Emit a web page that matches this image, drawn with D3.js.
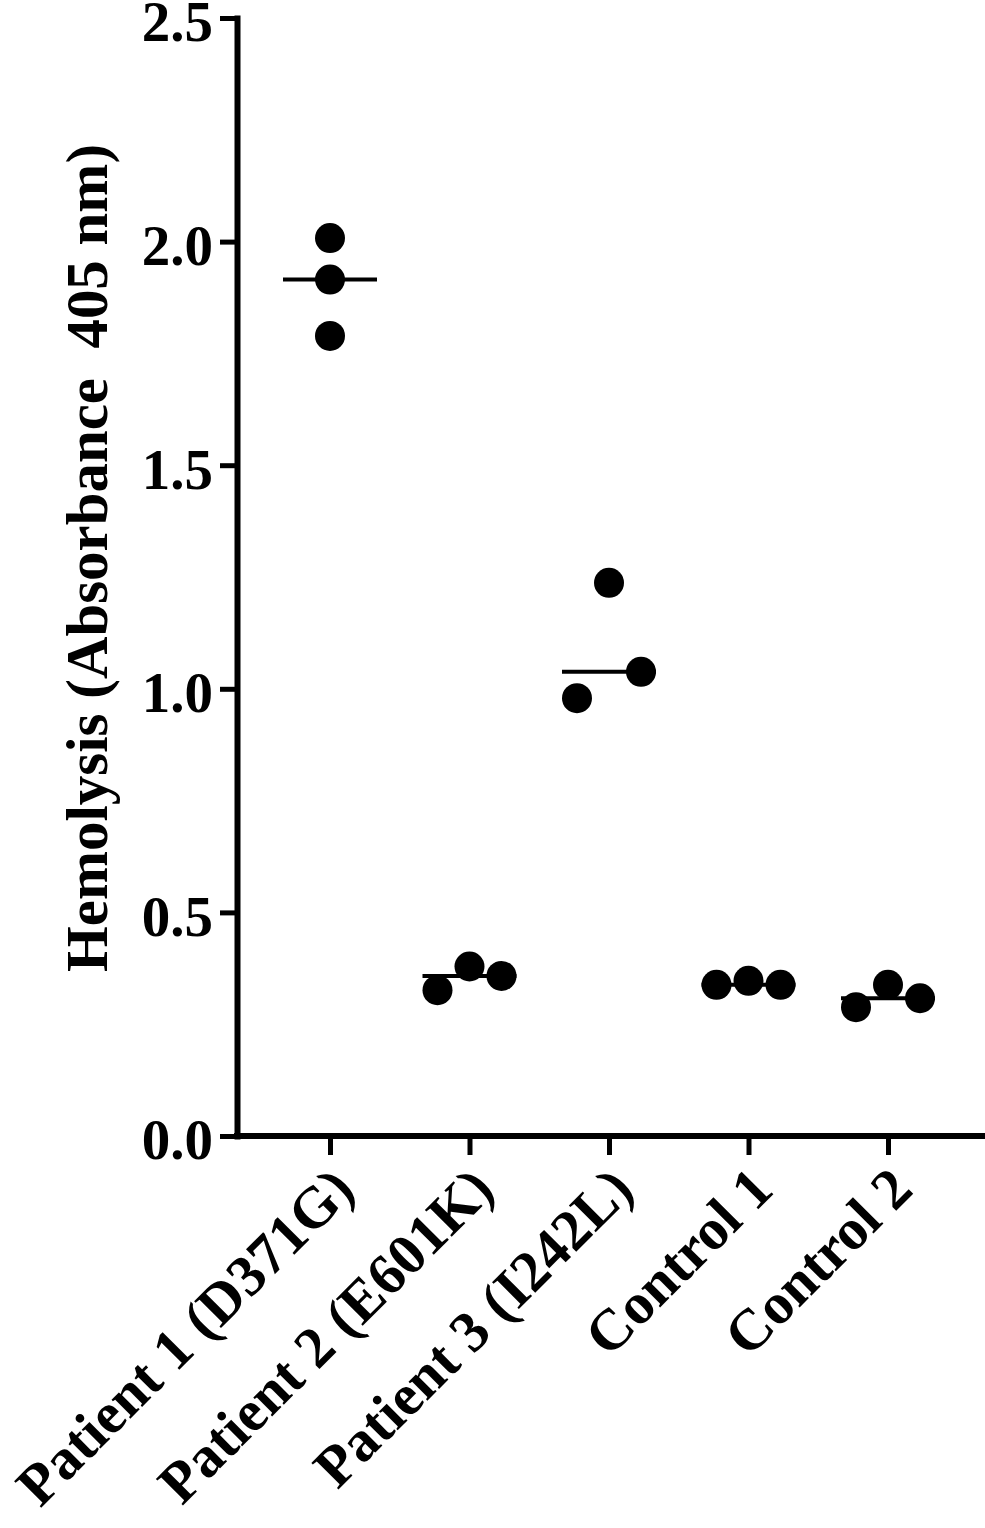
<!DOCTYPE html>
<html>
<head>
<meta charset="utf-8">
<script src="https://cdn.jsdelivr.net/npm/d3@7"></script>
<style>
  html, body { margin: 0; padding: 0; background: #fff; }
  svg { display: block; }
  text { font-family: "Liberation Serif", "Times New Roman", serif; font-weight: bold; fill: #000; }
</style>
</head>
<body>
<svg id="chart" width="985" height="1528"></svg>
<script>
// ---- data ----
const categories = ["Patient 1 (D371G)", "Patient 2 (E601K)", "Patient 3 (I242L)", "Control 1", "Control 2"];
const patient1 = [2.008, 1.915, 1.789];
const patient2 = [0.326, 0.379, 0.358];
const patient3 = [0.979, 1.237, 1.038];
const control1 = [0.338, 0.347, 0.338];
const control2 = [0.288, 0.338, 0.308];
const yTickValues = [0.0, 0.5, 1.0, 1.5, 2.0, 2.5];
const yTitle = "Hemolysis (Absorbance  405 nm)";

const groups = [patient1, patient2, patient3, control1, control2];

// ---- layout ----
const svg = d3.select("#chart");
const axisX = 237;      // y axis position
const yTop = 18, yBottom = 1136;
const x = d3.scalePoint().domain(categories).range([330, 888]);
const y = d3.scaleLinear().domain([0, 2.5]).range([yBottom, yTop]);
const R = 15;
const spread = 32;

// Y axis
const yAxis = d3.axisLeft(y).tickValues(yTickValues).tickFormat(d3.format(".1f"))
  .tickSize(17).tickSizeOuter(0).tickPadding(7);
const gy = svg.append("g").attr("transform", `translate(${axisX},0)`).call(yAxis);
gy.select(".domain").attr("stroke", "#000").attr("stroke-width", 6).attr("stroke-linecap", "square");
gy.selectAll(".tick line").attr("stroke", "#000").attr("stroke-width", 5);
gy.selectAll(".tick text").style("font-size", "57px").attr("dy", "0.40em")
  .style("font-family", "'Liberation Serif', serif").style("font-weight", "bold");

// X axis
const xAxis = d3.axisBottom(x).tickSize(19).tickSizeOuter(0).tickFormat("");
const gx = svg.append("g").attr("transform", `translate(0,${yBottom})`).call(xAxis);
gx.select(".domain").remove();
gx.selectAll(".tick line").attr("stroke", "#000").attr("stroke-width", 5);
svg.append("line")
  .attr("x1", axisX - 3).attr("x2", 985)
  .attr("y1", y(0)).attr("y2", y(0))
  .attr("stroke", "#000").attr("stroke-width", 6);

// rotated category labels
svg.append("g").selectAll("text").data(categories).join("text")
  .attr("text-anchor", "end")
  .attr("transform", d => `translate(${x(d) + 27},${yBottom + 56}) rotate(-45)`)
  .style("font-size", "58px")
  .text(d => d);

// Y title
svg.append("text")
  .attr("transform", `translate(107,558) rotate(-90)`)
  .attr("text-anchor", "middle")
  .style("font-size", "60px")
  .style("white-space", "pre")
  .attr("textLength", 828).attr("lengthAdjust", "spacingAndGlyphs")
  .text(yTitle);

// points: spread horizontally only when points in a group would overlap
groups.forEach((vals, gi) => {
  const cat = categories[gi];
  const ys = vals.map(v => y(v));
  let overlap = false;
  for (let i = 0; i < ys.length; i++)
    for (let j = i + 1; j < ys.length; j++)
      if (Math.abs(ys[i] - ys[j]) < 2 * R) overlap = true;
  const pts = vals.map((v, i) => ({ v, cx: x(cat) + (overlap ? (i - 1) * spread : 0) }));
  const med = d3.median(vals);
  svg.append("line")
    .attr("x1", x(cat) - 47).attr("x2", x(cat) + 47)
    .attr("y1", y(med)).attr("y2", y(med))
    .attr("stroke", "#000").attr("stroke-width", 4);
  svg.append("g").selectAll("circle").data(pts).join("circle")
    .attr("cx", d => d.cx).attr("cy", d => y(d.v)).attr("r", R).attr("fill", "#000");
});
</script>
</body>
</html>
